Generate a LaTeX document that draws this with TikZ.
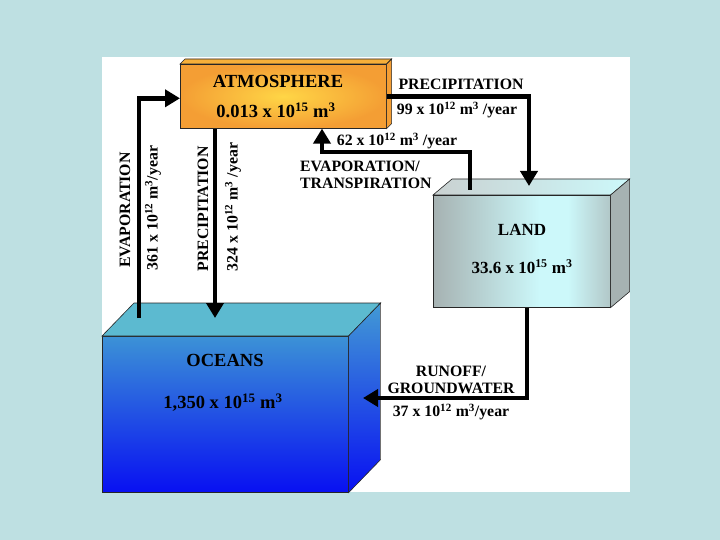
\documentclass[tikz,border=0pt]{standalone}
\usepackage{fontspec}
\setmainfont{Liberation Serif}
\usetikzlibrary{arrows.meta,calc}

\definecolor{slidebg}{RGB}{190,224,226}
\definecolor{atmin}{RGB}{255,214,70}
\definecolor{atmout}{RGB}{244,158,52}
\definecolor{landgray}{RGB}{166,178,178}
\definecolor{landcyan}{RGB}{204,248,250}
\definecolor{seatop}{RGB}{60,146,214}
\definecolor{seabot}{RGB}{8,16,242}
\definecolor{seaface}{RGB}{92,186,208}
\pgfdeclarehorizontalshading{landshade}{100bp}{color(0bp)=(landgray); color(25bp)=(landgray);
  color(55bp)=(landcyan); color(63bp)=(landcyan); color(75bp)=(landgray!70!landcyan); color(100bp)=(landgray!70!landcyan)}

\begin{document}
\begin{tikzpicture}[x=1pt,y=-1pt,font=\bfseries,
  >={Triangle[width=17pt,length=15pt]},
  store/.style={draw=black!85,line width=0.6pt,inner sep=0pt,anchor=north west},
  face/.style={draw=black!85,line width=0.6pt},
  flow/.style={->,line width=4.5pt,black},
  big/.style={font=\fontsize{18.5}{20}\selectfont\bfseries},
  lbl/.style={font=\fontsize{15.8}{16.5}\selectfont\bfseries,inner sep=0pt}]
\useasboundingbox (0,0) rectangle (720,540);
\fill[slidebg] (0,0) rectangle (720,540);
\fill[white] (102,57) rectangle (630,492);
% reservoirs
\node[store,minimum width=206pt,minimum height=64pt,shading=radial,inner color=atmin,outer color=atmout] (atm) at (180,64) {};
\node[store,minimum width=177pt,minimum height=112pt,shading=landshade] (land) at (433,195) {};
\node[store,minimum width=246pt,minimum height=156pt,top color=seatop,bottom color=seabot] (ocean) at (102,336) {};
\draw[face,fill=atmout!70!atmin] (atm.north west) -- ++(5,-5) -- ($(atm.north east)+(5,-5)$) -- (atm.north east) -- cycle;
\draw[face,fill=atmout] (atm.north east) -- ++(5,-5) -- ($(atm.south east)+(5,-5)$) -- (atm.south east) -- cycle;
\draw[face,left color=landgray!60!white,right color=landcyan] (land.north west) -- ++(19,-16) -- ($(land.north east)+(19,-16)$) -- (land.north east) -- cycle;
\draw[face,fill=landgray] (land.north east) -- ++(19,-16) -- ($(land.south east)+(19,-16)$) -- (land.south east) -- cycle;
\draw[face,fill=seaface] (ocean.north west) -- ++(32,-33) -- ($(ocean.north east)+(32,-33)$) -- (ocean.north east) -- cycle;
\draw[face,top color=seatop!80!seaface,bottom color=seabot] (ocean.north east) -- ++(32,-33) -- ($(ocean.south east)+(32,-33)$) -- (ocean.south east) -- cycle;
\node[big] (atmname) at (278,81) {ATMOSPHERE};
\node[big] (atmvol) at (276,110) {0.013 x 10\textsuperscript{15} m\textsuperscript{3}};
\node[big,font=\fontsize{17}{18}\selectfont\bfseries] (landname) at (522,230) {LAND};
\node[big,font=\fontsize{17}{18}\selectfont\bfseries] (landvol) at (522,267) {33.6 x 10\textsuperscript{15} m\textsuperscript{3}};
\node[big] (oceanname) at (225,360) {OCEANS};
\node[big] (oceanvol) at (223,403) {1,350 x 10\textsuperscript{15} m\textsuperscript{3}};
% fluxes
\coordinate (seaevap) at (139,318);
\coordinate (searain) at (215,318);
\coordinate (landrain) at (529,186);
\coordinate (landevap) at (470,190);
\coordinate (etbend) at (322,152);
\coordinate (runin) at (363,398);
\draw[flow] (seaevap) |- ([yshift=-2pt]atm.west);
\draw[flow] ([xshift=35pt]atm.south west) -- (searain);
\draw[flow] (atm.east) -| (landrain);
\draw[flow] (landevap) |- (etbend) -- (etbend |- atm.south);
\draw[flow] ([xshift=94pt]land.south west) |- (runin);
\node[lbl] (rainland) at (461,84) {PRECIPITATION};
\node[lbl] (rainlandq) at (457,110) {99 x 10\textsuperscript{12} m\textsuperscript{3} /year};
\node[lbl] (etq) at (397,141) {62 x 10\textsuperscript{12} m\textsuperscript{3} /year};
\node[lbl,align=left,anchor=west] (et) at (300,175) {EVAPORATION/\\TRANSPIRATION};
\node[lbl,rotate=90] (evapsea) at (125,210) {EVAPORATION};
\node[lbl,rotate=90] (evapseaq) at (153,208) {361 x 10\textsuperscript{12} m\textsuperscript{3}/year};
\node[lbl,rotate=90] (rainsea) at (203,209) {PRECIPITATION};
\node[lbl,rotate=90] (rainseaq) at (233,207) {324 x 10\textsuperscript{12} m\textsuperscript{3} /year};
\node[lbl,align=center] (runoff) at (451,380) {RUNOFF/\\GROUNDWATER};
\node[lbl] (runoffq) at (451,412) {37 x 10\textsuperscript{12} m\textsuperscript{3}/year};
\end{tikzpicture}
\end{document}
